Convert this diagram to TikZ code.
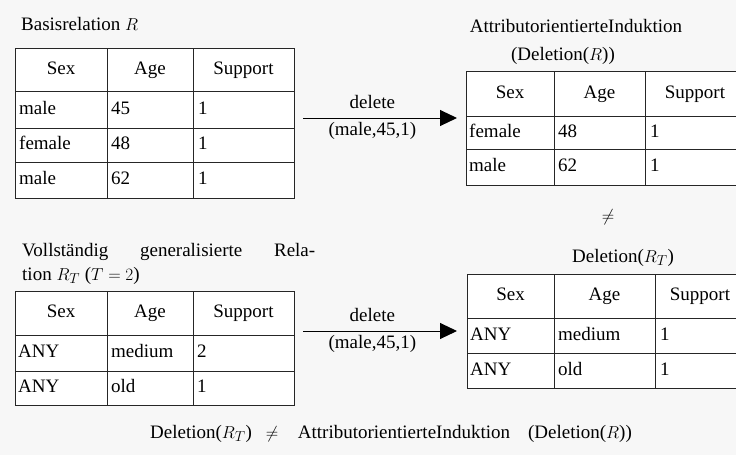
\documentclass[tikz,border=0pt]{standalone}
\usepackage{fontspec}
\setmainfont{Liberation Serif}
\usetikzlibrary{arrows.meta}
\definecolor{paper}{HTML}{F7F7F7}
\tikzset{
  tabline/.style  = { line width=1pt, black!85 },
  headcell/.style = { anchor=center, text height=13pt, text depth=4pt, inner sep=0pt },
  bodycell/.style = { anchor=west, text height=13pt, text depth=4pt, inner sep=0pt },
  heading/.style  = { anchor=base, inner sep=0pt },
  delarrow/.style = { line width=1pt, -{Triangle[length=17pt,width=16pt]} },
  dellabel/.style = { pos=0.45, inner sep=0pt }
}

\begin{document}
\begin{tikzpicture}[x=1pt,y=-1pt,font=\fontsize{19}{23}\selectfont]
  \useasboundingbox (0,0) rectangle (736,455);
  \fill[paper] (0,0) rectangle (736,455);
  \clip (0,0) rectangle (736,455);

  % Basisrelation R
  \node[heading, anchor=base west] (titleR) at (21,30) {Basisrelation $R$};
  \fill[white] (15,48) rectangle (294,198);
  \draw[tabline] (15,48) rectangle (294,198);
  \foreach \y in {91,128,162} \draw[tabline] (15,\y) -- (294,\y);
  \foreach \x in {107,193} \draw[tabline] (\x,48) -- (\x,198);
  \node[headcell] (R-sex) at (61,70)    {Sex};
  \node[headcell] (R-age) at (150,70)   {Age};
  \node[headcell] (R-sup) at (243.5,70) {Support};
  \foreach \y/\s/\a/\n [count=\i] in {109.5/male/45/1, 145/female/48/1, 180/male/62/1}{
    \node[bodycell] (R-sex-\i) at (19,\y)  {\s};
    \node[bodycell] (R-age-\i) at (111,\y) {\a};
    \node[bodycell] (R-sup-\i) at (198,\y) {\n};
  }

  % Attributorientierte Induktion (Deletion(R))
  \node[heading] (titleAI) at (576,32) {AttributorientierteInduktion};
  \node[heading] (titleDR) at (563,60) {(Deletion($R$))};
  \fill[white] (466,71) rectangle (745,185);
  \draw[tabline] (466,71) rectangle (745,185);
  \foreach \y in {116,149} \draw[tabline] (466,\y) -- (745,\y);
  \foreach \x in {554,645} \draw[tabline] (\x,71) -- (\x,185);
  \node[headcell] (AI-sex) at (510,93.5)   {Sex};
  \node[headcell] (AI-age) at (599.5,93.5) {Age};
  \node[headcell] (AI-sup) at (695,93.5)   {Support};
  \foreach \y/\s/\a/\n [count=\i] in {132.5/female/48/1, 167/male/62/1}{
    \node[bodycell] (AI-sex-\i) at (469,\y) {\s};
    \node[bodycell] (AI-age-\i) at (558,\y) {\a};
    \node[bodycell] (AI-sup-\i) at (650,\y) {\n};
  }

  % Vollstaendig generalisierte Relation R_T
  \node[heading, anchor=base west] (titleRT1) at (22,256)
    {\hbox to 293pt{Vollständig\hfill generalisierte\hfill Rela-}};
  \node[heading, anchor=base west] (titleRT2) at (22,280) {tion $R_T$ ($T=2$)};
  \fill[white] (15,291) rectangle (294,405);
  \draw[tabline] (15,291) rectangle (294,405);
  \foreach \y in {335,371} \draw[tabline] (15,\y) -- (294,\y);
  \foreach \x in {107,193} \draw[tabline] (\x,291) -- (\x,405);
  \node[headcell] (RT-sex) at (61,313)    {Sex};
  \node[headcell] (RT-age) at (150,313)   {Age};
  \node[headcell] (RT-sup) at (243.5,313) {Support};
  \foreach \y/\s/\a/\n [count=\i] in {353/ANY/medium/2, 388/ANY/old/1}{
    \node[bodycell] (RT-sex-\i) at (18,\y)  {\s};
    \node[bodycell] (RT-age-\i) at (111,\y) {\a};
    \node[bodycell] (RT-sup-\i) at (197,\y) {\n};
  }

  % Deletion(R_T)
  \node[anchor=center] (neqR) at (608,217) {$\neq$};
  \node[heading] (titleDRT) at (623,262) {Deletion($R_T$)};
  \fill[white] (467,274) rectangle (745,388);
  \draw[tabline] (467,274) rectangle (745,388);
  \foreach \y in {318,353} \draw[tabline] (467,\y) -- (745,\y);
  \foreach \x in {554,655} \draw[tabline] (\x,274) -- (\x,388);
  \node[headcell] (DT-sex) at (510.5,296) {Sex};
  \node[headcell] (DT-age) at (604.5,296) {Age};
  \node[headcell] (DT-sup) at (700,296)   {Support};
  \foreach \y/\s/\a/\n [count=\i] in {335.5/ANY/medium/1, 370.5/ANY/old/1}{
    \node[bodycell] (DT-sex-\i) at (470,\y) {\s};
    \node[bodycell] (DT-age-\i) at (558,\y) {\a};
    \node[bodycell] (DT-sup-\i) at (660,\y) {\n};
  }

  % Draw delete arrows
  \coordinate (delA1) at (303,118);
  \coordinate (delA2) at (457,118);
  \coordinate (delB1) at (303,331);
  \coordinate (delB2) at (457,331);
  \draw[delarrow] (delA1) -- node[dellabel, above=9pt] (delAtop) {delete}
                             node[dellabel, below=4pt] (delAbot) {(male,45,1)} (delA2);
  \draw[delarrow] (delB1) -- node[dellabel, above=9pt] (delBtop) {delete}
                             node[dellabel, below=4pt] (delBbot) {(male,45,1)} (delB2);

  % Draw conclusion
  \node[heading] (conA) at (201,438) {Deletion($R_T$)};
  \node[heading] (conB) at (272,438) {$\neq$};
  \node[heading] (conC) at (404,438) {AttributorientierteInduktion};
  \node[heading] (conD) at (580,438) {(Deletion($R$))};
\end{tikzpicture}
\end{document}
